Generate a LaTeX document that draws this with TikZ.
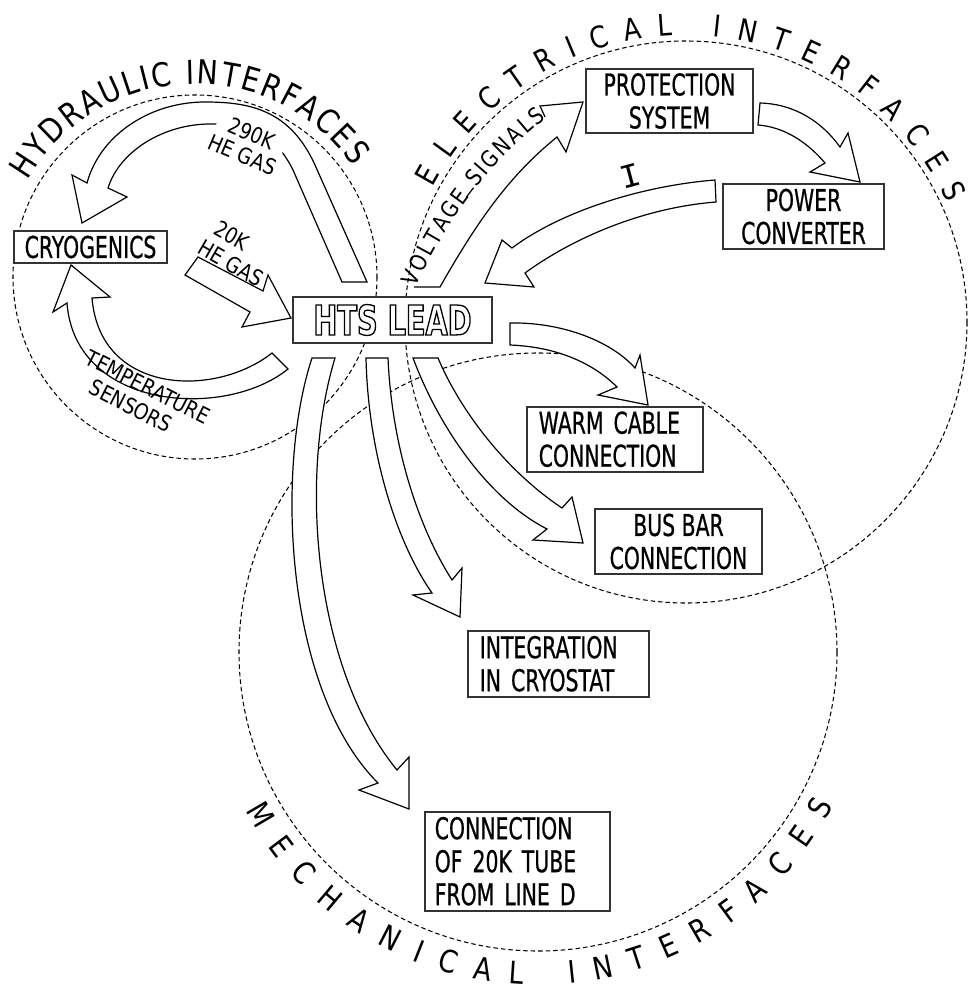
\documentclass[tikz,border=0pt]{standalone}
\usepackage{fontspec}
\usetikzlibrary{decorations.text}
\newfontfamily\cadfont{DejaVu Sans}[FakeStretch=0.68, FakeBold=0.6]
\newfontfamily\cadwide{DejaVu Sans}[FakeStretch=0.85]
\newfontfamily\cadbold{DejaVu Sans}[FakeStretch=0.7]
\newfontfamily\curfont{Liberation Mono}
\newcommand\hollowtext[1]{\special{pdf:literal direct 1 Tr 1.3 w}#1\special{pdf:literal direct 0 Tr}}
\newcommand\boxfont{\cadfont\fontsize{30}{33}\selectfont}
\newcommand\lblfont{\cadwide\fontsize{22}{23}\selectfont}
\newcommand\voltfont{\cadwide\fontsize{23}{23}\selectfont}
\newcommand\hydfont{\cadwide\fontsize{33}{33}\selectfont}
\newcommand\elefont{\cadwide\fontsize{30}{30}\selectfont}
\newcommand\mecfont{\cadwide\fontsize{31}{31}\selectfont}
\tikzset{
  ring/.style={draw=black, line width=1.05pt, dash pattern=on 4.5pt off 3pt},
  band/.style={draw=black, line width=1.2pt, fill=white, line join=miter},
  edgeline/.style={draw=black, line width=1.2pt, line join=miter},
  boxnode/.style={draw=black!80, line width=1.5pt, fill=white, font=\boxfont, inner sep=0pt},
  lbl/.style={font=\lblfont, inner sep=0.5pt},
}
\begin{document}
\begin{tikzpicture}[x=1pt, y=-1pt]
\useasboundingbox (0,0) rectangle (969,992);
\fill[white] (0,0) rectangle (969,992);
% dashed interface circles
\draw[ring] (195,277) circle[radius=182];
\draw[ring] (686,322) circle[radius=281];
\draw[ring] (538,652) circle[radius=299];
% circle titles
\path[decorate, decoration={text along path, text align=fit to path, text={|\hydfont|HYDRAULIC INTERFACES}}]
  ([shift={(-150:193)}]195,277) arc[start angle=-150, end angle=-35, radius=193];
\path[decorate, decoration={text along path, text align=fit to path, text={|\elefont|ELECTRICAL INTERFACES}}]
  ([shift={(-152:287)}]686,322) arc[start angle=-152, end angle=-24.5, radius=287];
\path[decorate, decoration={text along path, text align=fit to path, text={|\mecfont|MECHANICAL INTERFACES}}]
  ([shift={(151.5:333)}]538,652) arc[start angle=151.5, end angle=27.5, radius=333];

% 290K He gas arrow (HTS lead -> cryogenics)
\draw[band] (367,282) -- (315,165) .. controls (290,110) and (250,102) .. (205,102)
  .. controls (150,102) and (100,135) .. (87,183) -- (72,175) -- (82,223) -- (127,197) -- (108,188)
  .. controls (120,150) and (165,124) .. (210,124) .. controls (245,124) and (272,128) .. (293,170)
  -- (342,282) -- cycle;
% 20K He gas arrow (cryogenics -> HTS lead)
\draw[band] (198,257) -- (263,291) -- (268,275) -- (291,318) -- (242,327) -- (250,312) -- (185,275) -- cycle;
% temperature sensors arrow
\draw[band] (272,353) .. controls (215,398) and (100,395) .. (92,298) -- (110,297) -- (71,265)
  -- (53,312) -- (67,303) .. controls (75,410) and (225,420) .. (288,369) -- cycle;
% voltage signals arrow
\fill[white] (414,287) .. controls (450,210) and (490,160) .. (545,117) -- (540,106) -- (583,102)
  -- (566,152) -- (557,137) .. controls (510,175) and (478,220) .. (440,287) -- cycle;
\draw[edgeline] (545,117) -- (540,106) -- (583,102) -- (566,152) -- (557,137)
  .. controls (510,175) and (478,220) .. (440,287) -- (414,287);
\draw[edgeline, dash pattern=on 0pt off 104pt on 12pt off 200pt]
  (414,287) .. controls (450,210) and (490,160) .. (545,117);
% protection -> power converter
\draw[band] (760,103) .. controls (795,104) and (822,122) .. (840,147) -- (848,133) -- (860,182)
  -- (810,172) -- (825,163) .. controls (808,143) and (785,127) .. (758,125) -- cycle;
% current I: power converter -> HTS lead
\draw[band] (715,180) .. controls (640,186) and (560,212) .. (512,248) -- (502,240) -- (485,283)
  -- (534,287) -- (525,273) .. controls (570,240) and (640,208) .. (716,202) -- cycle;
% HTS -> warm cable
\draw[band] (510,323) .. controls (560,322) and (610,340) .. (635,368) -- (640,355) -- (648,405)
  -- (598,395) -- (617,387) .. controls (595,365) and (560,347) .. (510,345) -- cycle;
% HTS -> bus bar
\draw[band] (413,358) .. controls (440,430) and (490,500) .. (547,529) -- (533,540) -- (583,543)
  -- (572,497) -- (562,508) .. controls (505,470) and (460,410) .. (438,358) -- cycle;
% HTS -> integration
\draw[band] (366,358) .. controls (368,450) and (395,540) .. (432,593) -- (413,595) -- (460,617)
  -- (462,568) -- (452,580) .. controls (420,530) and (392,450) .. (388,358) -- cycle;
% HTS -> connection of 20K tube
\draw[band] (312,358) .. controls (275,470) and (285,690) .. (378,783) -- (359,790) -- (409,809)
  -- (409,757) -- (397,770) .. controls (315,670) and (298,480) .. (335,358) -- cycle;

% boxes
\node[boxnode, minimum width=153pt, minimum height=32pt, font=\cadfont\fontsize{30}{30}\selectfont] (cryo) at (90.5,247) {CRYOGENICS};
\node[boxnode, minimum width=199pt, minimum height=46pt, font=\cadbold\bfseries\fontsize{41}{41}\selectfont] (hts) at (392.5,320) {\hollowtext{HTS LEAD}};
\node[boxnode, minimum width=167pt, minimum height=64pt, align=center] (prot) at (669.5,101) {PROTECTION\\SYSTEM};
\node[boxnode, minimum width=161pt, minimum height=65pt, align=center] (pc) at (803.5,216.5) {POWER\\CONVERTER};
\node[boxnode, anchor=north west, text width=152pt, inner xsep=12pt, minimum height=65pt, align=left] (warm) at (526,406) {WARM CABLE\\CONNECTION};
\node[boxnode, minimum width=167pt, minimum height=65pt, align=center] (bus) at (678.5,541.5) {BUS BAR\\CONNECTION};
\node[boxnode, anchor=north west, text width=157pt, inner xsep=12pt, minimum height=66pt, align=left] (integ) at (467,630) {INTEGRATION\\IN CRYOSTAT};
\node[boxnode, anchor=north west, text width=165pt, inner xsep=10pt, minimum height=99pt, align=left] (conn) at (424,811) {CONNECTION\\OF 20K TUBE\\FROM LINE D};

% arrow labels
\node[lbl, fill=white, align=center, rotate=-23] (l290) at (247,144) {290K\\HE GAS};
\node[lbl, rotate=-30] (l20a) at (232,236) {20K};
\node[lbl, rotate=-30] (l20b) at (231,263) {HE GAS};
\node[lbl, rotate=-27] (ltemp) at (148,387) {TEMPERATURE};
\node[lbl, rotate=-27] (lsens) at (131,406) {SENSORS};
\path[decorate, decoration={text along path, text align=fit to path, raise=-2pt, text={|\voltfont|VOLTAGE SIGNALS}}]
  (414,287) .. controls (450,210) and (490,160) .. (545,117);
\node[font=\curfont\fontsize{34}{34}\selectfont, rotate=15, inner sep=0pt] (cur) at (630,176) {I};
\end{tikzpicture}
\end{document}
